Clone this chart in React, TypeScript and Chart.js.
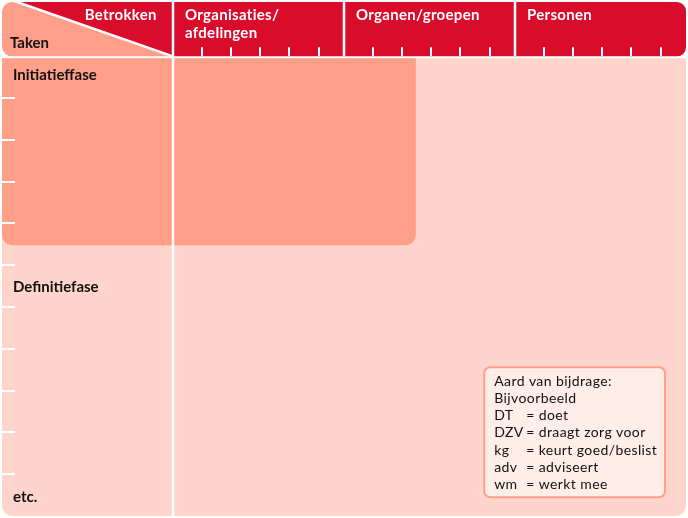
import React, { useEffect, useRef } from "react";
import { Chart, registerables } from "chart.js";

Chart.register(...registerables);

// ---- data ----
const columnLabels: string[][] = [["Organisaties/", "afdelingen"], ["Organen/groepen"], ["Personen"]];
const cornerTop = "Betrokken";
const cornerBottom = "Taken";
const subColumnTicks = [0.17, 0.34, 0.51, 0.68, 0.855];
const rowTicks = [1, 2, 3, 4, 5, 6, 7, 8, 9, 10];
const phaseLabels = ["Initiatieffase", "Definitiefase", "etc."];
const phaseRows = [0.45, 5.52, 10.55];
const highlightX = [0, 2.42];
const highlightY = [0, 4.52];
const legendTitle = ["Aard van bijdrage:", "Bijvoorbeeld"];
const legendCodes = ["DT", "DZV", "kg", "adv", "wm"];
const legendMeanings = ["doet", "draagt zorg voor", "keurt goed/beslist", "adviseert", "werkt mee"];

// ---- styles ----
const RED = "#DA0C2C";
const SALMON = "#FF9F8A";
const LIGHT = "#FFD5CB";
const LEGEND_FILL = "#FFEDEA";
const FONT = "Lato, 'Noto Sans', sans-serif";

const X_MIN = 0, X_MAX = 4, Y_MIN = -1.3, Y_MAX = 11;

const drawPlugin = {
  id: "matrixDiagram",
  beforeDraw(chart: any) {
    const ctx: any = chart.ctx;
    const xs = chart.scales.x;
    const ys = chart.scales.y;
    const px = (v: number) => xs.getPixelForValue(v);
    const py = (v: number) => ys.getPixelForValue(v);
    const left = px(X_MIN), right = px(X_MAX), top = py(Y_MIN), bottom = py(Y_MAX);
    const hb = py(0); // header bottom
    const gap = 2;

    ctx.save();
    ctx.fillStyle = "#fff";
    ctx.fillRect(0, 0, chart.width, chart.height);

    // body
    ctx.fillStyle = LIGHT;
    ctx.beginPath();
    ctx.roundRect(left, hb + gap, right - left, bottom - hb - gap, [0, 0, 10, 10]);
    ctx.fill();

    // highlight block
    ctx.fillStyle = SALMON;
    ctx.beginPath();
    ctx.roundRect(px(highlightX[0]), py(highlightY[0]) + gap, px(highlightX[1]) - px(highlightX[0]), py(highlightY[1]) - py(highlightY[0]) - gap, [0, 0, 10, 10]);
    ctx.fill();

    // corner cell (salmon)
    ctx.fillStyle = SALMON;
    ctx.beginPath();
    ctx.roundRect(left, top, px(1) - left, hb - top, [10, 0, 0, 10]);
    ctx.fill();

    // red header
    const dx = px(0.09);
    const r = 9;
    ctx.fillStyle = RED;
    ctx.beginPath();
    ctx.moveTo(dx, top);
    ctx.lineTo(right - r, top);
    ctx.arcTo(right, top, right, top + r, r);
    ctx.lineTo(right, hb - r);
    ctx.arcTo(right, hb, right - r, hb, r);
    ctx.lineTo(px(1), hb);
    ctx.closePath();
    ctx.fill();

    // white lines
    ctx.strokeStyle = "#fff";
    ctx.lineWidth = 2.5;
    ctx.beginPath();
    ctx.moveTo(dx - 6, top - 2);
    ctx.lineTo(px(1), hb);
    ctx.stroke();

    ctx.beginPath();
    ctx.moveTo(px(1), 0);
    ctx.lineTo(px(1), bottom);
    for (let c = 2; c <= 3; c++) {
      ctx.moveTo(px(c), 0);
      ctx.lineTo(px(c), hb);
    }
    ctx.stroke();

    // header sub-column ticks
    ctx.lineWidth = 2;
    ctx.beginPath();
    for (let c = 1; c <= 3; c++) {
      for (const o of subColumnTicks) {
        const x = Math.round(px(c + o));
        ctx.moveTo(x, hb - 9);
        ctx.lineTo(x, hb);
      }
    }
    // left row ticks
    for (const k of rowTicks) {
      const y = Math.round(py(k));
      ctx.moveTo(left, y);
      ctx.lineTo(left + 13, y);
    }
    ctx.stroke();

    // header text
    ctx.fillStyle = "#fff";
    ctx.font = `bold 15px ${FONT}`;
    ctx.letterSpacing = "0.3px";
    ctx.textBaseline = "middle";
    ctx.textAlign = "right";
    ctx.fillText(cornerTop, px(0.905), top + 13);
    ctx.textAlign = "left";
    columnLabels.forEach((lines, i) => {
      lines.forEach((t, j) => {
        ctx.fillText(t, px(i + 1) + 12, top + 13 + j * 18);
      });
    });
    ctx.fillStyle = "#111";
    ctx.letterSpacing = "0px";
    ctx.fillText(cornerBottom, left + 8, top + 41);

    // phase labels
    phaseLabels.forEach((t, i) => {
      ctx.fillText(t, left + 11, py(phaseRows[i]));
    });

    // legend box
    const lx0 = px(2.82), lx1 = px(3.877), ly0 = py(7.44), ly1 = py(10.55);
    ctx.fillStyle = LEGEND_FILL;
    ctx.strokeStyle = SALMON;
    ctx.lineWidth = 2;
    ctx.beginPath();
    ctx.roundRect(lx0, ly0, lx1 - lx0, ly1 - ly0, 6);
    ctx.fill();
    ctx.stroke();

    ctx.fillStyle = "#111";
    ctx.font = `14px ${FONT}`;
    ctx.letterSpacing = "0.4px";
    const lh = 17.2;
    let y = ly0 + 14;
    legendTitle.forEach((t) => {
      ctx.fillText(t, lx0 + 10, y);
      y += lh;
    });
    legendCodes.forEach((c, i) => {
      ctx.fillText(c, lx0 + 10, y);
      ctx.fillText("= " + legendMeanings[i], lx0 + 42, y);
      y += lh;
    });

    ctx.restore();
  },
};

export default function App() {
  const ref = useRef<HTMLCanvasElement>(null);
  useEffect(() => {
    if (!ref.current) return;
    const chart = new Chart(ref.current, {
      type: "scatter",
      data: { datasets: [{ data: [] }] },
      options: {
        animation: false,
        responsive: false,
        layout: { padding: { left: 2, right: 2, top: 2, bottom: 2 } },
        scales: {
          x: { type: "linear", min: X_MIN, max: X_MAX, display: false },
          y: { type: "linear", min: Y_MIN, max: Y_MAX, reverse: true, display: false },
        },
        plugins: { legend: { display: false }, tooltip: { enabled: false } },
      },
      plugins: [drawPlugin],
    } as any);
    return () => chart.destroy();
  }, []);
  return (
    <div style={{ position: "absolute", left: 0, top: 0, width: 688, height: 518 }}>
      <canvas ref={ref} width={688} height={518} />
    </div>
  );
}
